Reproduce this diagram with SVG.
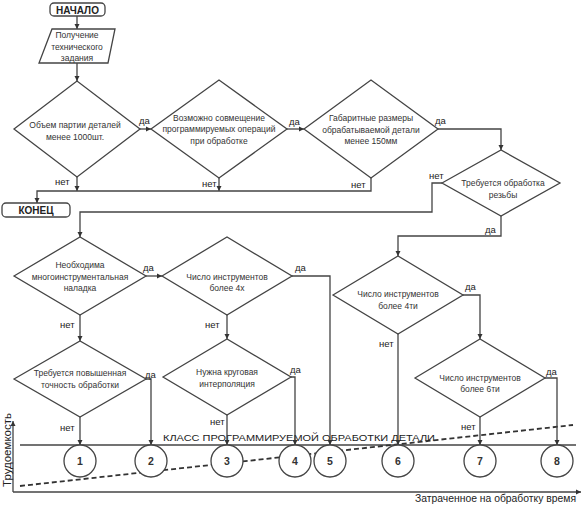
<svg xmlns="http://www.w3.org/2000/svg" width="583" height="506" viewBox="0 0 583 506">
<defs>
<marker id="ar" markerWidth="6" markerHeight="6" refX="5" refY="3" orient="auto" markerUnits="userSpaceOnUse">
<path d="M0,0.5 L5,3 L0,5.5 Z" fill="#333"/>
</marker>
<style>
.s{fill:#fff;stroke:#444;stroke-width:1.3}
.c{fill:none;stroke:#444;stroke-width:1.3}
.t{font-family:"Liberation Sans",Arial,sans-serif;font-size:8.5px;fill:#333;text-anchor:middle}
.b{font-family:"Liberation Sans",Arial,sans-serif;font-size:10px;font-weight:bold;fill:#222;text-anchor:middle}
.lab{font-family:"Liberation Sans",Arial,sans-serif;font-size:9.5px;fill:#222}
.n{font-family:"Liberation Sans",Arial,sans-serif;font-size:10.5px;font-weight:bold;fill:#333;text-anchor:middle}
.ax{font-family:"Liberation Sans",Arial,sans-serif;font-size:10.5px;fill:#222}
</style>
</defs>
<rect width="583" height="506" fill="#fff"/>

<!-- axes and class line -->
<g id="axes">
<line x1="13" y1="492" x2="13" y2="421" class="c" marker-end="url(#ar)"/>
<line x1="13" y1="492" x2="581" y2="492" class="c" marker-end="url(#ar)"/>
<line x1="20" y1="445" x2="576" y2="445" class="c"/>
<line x1="20" y1="486" x2="573" y2="425" stroke="#333" stroke-width="1.8" stroke-dasharray="5 3"/>
<text class="ax" transform="translate(11,487) rotate(-90)" textLength="74" lengthAdjust="spacingAndGlyphs">Трудоемкость</text>
<text class="ax" x="415" y="502" textLength="161" lengthAdjust="spacingAndGlyphs">Затраченное на обработку время</text>
<text class="lab" x="163" y="441" font-size="12" textLength="272" lengthAdjust="spacingAndGlyphs">КЛАСС ПРОГРАММИРУЕМОЙ ОБРАБОТКИ ДЕТАЛИ</text>
</g>

<!-- connectors -->
<g id="connectors">
<path class="c" d="M77,15 V29" marker-end="url(#ar)"/>
<path class="c" d="M77,63 V81" marker-end="url(#ar)"/>
<path class="c" d="M140,129 H151" marker-end="url(#ar)"/>
<path class="c" d="M287,129 H304" marker-end="url(#ar)"/>
<path class="c" d="M438,129 H501 V150" marker-end="url(#ar)"/>
<path class="c" d="M77,177 V191" marker-end="url(#ar)"/>
<path class="c" d="M219,178 V191" marker-end="url(#ar)"/>
<path class="c" d="M371,178 V191 H37 V203" marker-end="url(#ar)"/>
<path class="c" d="M442,183 H432 V212 H80 V237" marker-end="url(#ar)"/>
<path class="c" d="M501,216 V236 H398 V256" marker-end="url(#ar)"/>
<path class="c" d="M146,276 H162" marker-end="url(#ar)"/>
<path class="c" d="M80,315 V341" marker-end="url(#ar)"/>
<path class="c" d="M227,315 V339" marker-end="url(#ar)"/>
<path class="c" d="M292,276 H330 V445" marker-end="url(#ar)"/>
<path class="c" d="M463,295 H480 V339" marker-end="url(#ar)"/>
<path class="c" d="M398,334 V445" marker-end="url(#ar)"/>
<path class="c" d="M80,417 V445" marker-end="url(#ar)"/>
<path class="c" d="M146,379 H151 V445" marker-end="url(#ar)"/>
<path class="c" d="M227,415 V445" marker-end="url(#ar)"/>
<path class="c" d="M291,377 H295 V445" marker-end="url(#ar)"/>
<path class="c" d="M480,417 V445" marker-end="url(#ar)"/>
<path class="c" d="M545,378 H557 V445" marker-end="url(#ar)"/>
<text class="lab" x="55" y="185">нет</text>
<text class="lab" x="139" y="124">да</text>
<text class="lab" x="202" y="187">нет</text>
<text class="lab" x="289" y="125">да</text>
<text class="lab" x="435" y="124">да</text>
<text class="lab" x="351" y="188">нет</text>
<text class="lab" x="429" y="179">нет</text>
<text class="lab" x="485" y="233">да</text>
<text class="lab" x="143" y="271">да</text>
<text class="lab" x="60" y="328">нет</text>
<text class="lab" x="295" y="271">да</text>
<text class="lab" x="205" y="328">нет</text>
<text class="lab" x="465" y="290">да</text>
<text class="lab" x="379" y="347">нет</text>
<text class="lab" x="145" y="378">да</text>
<text class="lab" x="60" y="431">нет</text>
<text class="lab" x="290" y="373">да</text>
<text class="lab" x="210" y="425">нет</text>
<text class="lab" x="546" y="375">да</text>
<text class="lab" x="461" y="430">нет</text>
</g>

<g id="start">
<rect class="s" x="50" y="3" width="55" height="13" rx="4"/>
<text class="b" x="77.5" y="13.5">НАЧАЛО</text>
</g>
<g id="input">
<polygon class="s" points="52,29 115,29 108,63 39,63"/>
<text class="t" x="77" y="38">Получение</text>
<text class="t" x="77" y="49.5">технического</text>
<text class="t" x="77" y="61">задания</text>
</g>
<g id="end">
<rect class="s" x="2" y="203" width="68" height="14" rx="4"/>
<text class="b" x="36" y="214">КОНЕЦ</text>
</g>

<g id="d1">
<polygon class="s" points="14,129 77,81 140,129 77,177"/>
<text class="t" x="75" y="128">Объем партии деталей</text>
<text class="t" x="75" y="140">менее 1000шт.</text>
</g>
<g id="d2">
<polygon class="s" points="151,129 219,80 287,129 219,178"/>
<text class="t" x="219" y="121">Возможно совмещение</text>
<text class="t" x="219" y="132">программируемых операций</text>
<text class="t" x="219" y="144">при обработке</text>
</g>
<g id="d3">
<polygon class="s" points="304,129 371,80 438,129 371,178"/>
<text class="t" x="371" y="121">Габаритные размеры</text>
<text class="t" x="371" y="133">обрабатываемой детали</text>
<text class="t" x="371" y="144">менее 150мм</text>
</g>
<g id="d4">
<polygon class="s" points="442,183 501,150 560,183 501,216"/>
<text class="t" x="503" y="186">Требуется обработка</text>
<text class="t" x="503" y="198">резьбы</text>
</g>
<g id="d5">
<polygon class="s" points="14,276 80,237 146,276 80,315"/>
<text class="t" x="80" y="268">Необходима</text>
<text class="t" x="80" y="280">многоинструментальная</text>
<text class="t" x="80" y="291">наладка</text>
</g>
<g id="d6">
<polygon class="s" points="162,276 227,237 292,276 227,315"/>
<text class="t" x="227" y="280">Число инструментов</text>
<text class="t" x="227" y="291">более 4х</text>
</g>
<g id="d7">
<polygon class="s" points="333,295 398,256 463,295 398,334"/>
<text class="t" x="398" y="297">Число инструментов</text>
<text class="t" x="398" y="309">более 4ти</text>
</g>
<g id="d8">
<polygon class="s" points="14,379 80,341 146,379 80,417"/>
<text class="t" x="80" y="376">Требуется повышенная</text>
<text class="t" x="80" y="388">точность обработки</text>
</g>
<g id="d9">
<polygon class="s" points="163,377 227,339 291,377 227,415"/>
<text class="t" x="227" y="375">Нужна круговая</text>
<text class="t" x="227" y="387">интерполяция</text>
</g>
<g id="d10">
<polygon class="s" points="415,378 480,339 545,378 480,417"/>
<text class="t" x="480" y="381">Число инструментов</text>
<text class="t" x="480" y="392">более 6ти</text>
</g>

<g id="c1"><circle class="s" cx="80" cy="461" r="16"/><text class="n" x="80" y="465">1</text></g>
<g id="c2"><circle class="s" cx="151" cy="461" r="16"/><text class="n" x="151" y="465">2</text></g>
<g id="c3"><circle class="s" cx="227" cy="461" r="16"/><text class="n" x="227" y="465">3</text></g>
<g id="c4"><circle class="s" cx="295" cy="461" r="16"/><text class="n" x="295" y="465">4</text></g>
<g id="c5"><circle class="s" cx="330" cy="461" r="16"/><text class="n" x="330" y="465">5</text></g>
<g id="c6"><circle class="s" cx="398" cy="461" r="16"/><text class="n" x="398" y="465">6</text></g>
<g id="c7"><circle class="s" cx="480" cy="461" r="16"/><text class="n" x="480" y="465">7</text></g>
<g id="c8"><circle class="s" cx="557" cy="461" r="16"/><text class="n" x="557" y="465">8</text></g>
</svg>
